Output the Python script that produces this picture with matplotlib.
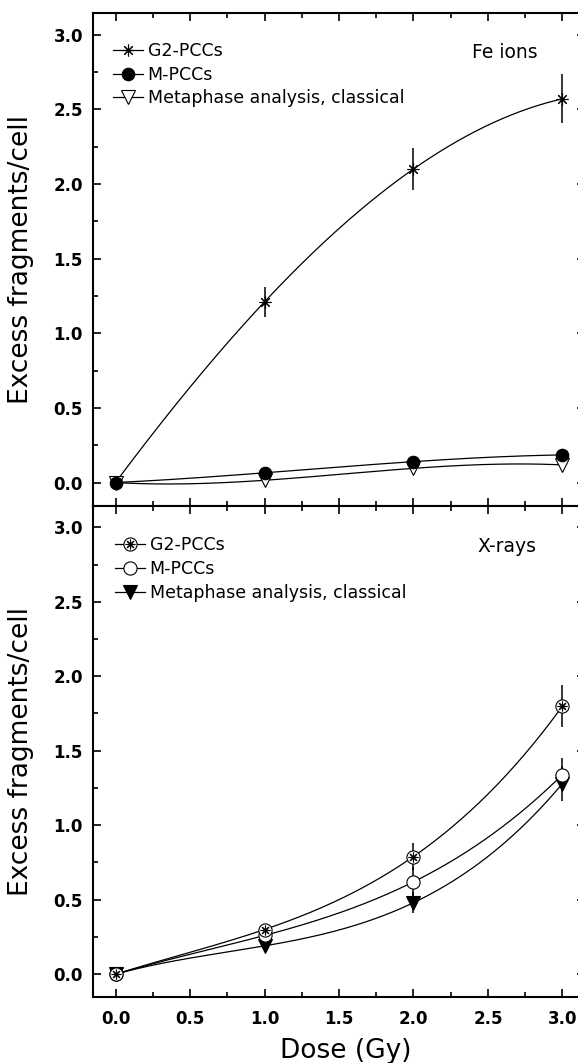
import numpy as np
import matplotlib.pyplot as plt
from matplotlib.ticker import MultipleLocator, FormatStrFormatter
from matplotlib.legend_handler import HandlerTuple

# dose points (Gy)
dose = [0.0, 1.0, 2.0, 3.0]

# Fe ions
fe_g2 = [0.0, 1.21, 2.10, 2.57]
fe_g2_err = [0.0, 0.10, 0.14, 0.165]
fe_m = [0.0, 0.065, 0.14, 0.185]
fe_meta = [0.0, 0.015, 0.095, 0.118]

# X-rays
xr_g2 = [0.0, 0.30, 0.79, 1.80]
xr_g2_err = [0.0, 0.04, 0.09, 0.14]
xr_m = [0.0, 0.26, 0.62, 1.34]
xr_m_err = [0.0, 0.03, 0.10, 0.11]
xr_meta = [0.0, 0.19, 0.48, 1.28]
xr_meta_err = [0.0, 0.02, 0.07, 0.12]

labels = ["G2-PCCs", "M-PCCs", "Metaphase analysis, classical"]

ASTER = (8, 2, 0)
LW = 0.9


def smooth(x, y):
    # smooth cubic through the measured points, like the original fit curves
    coef = np.polyfit(x, y, 3)
    xs = np.linspace(min(x), max(x), 200)
    return xs, np.polyval(coef, xs)


def draw_series(ax, y, err, mstyle):
    xs, ys = smooth(dose, y)
    ax.plot(xs, ys, color="k", lw=LW, zorder=2)
    if err is not None:
        ax.errorbar(dose, y, yerr=err, fmt="none", ecolor="k", elinewidth=1.1, capsize=0, zorder=3)
    for m in mstyle:
        ax.plot(dose, y, ls="none", zorder=4, **m)


def handle(mstyle):
    hs = []
    for i, m in enumerate(mstyle):
        h, = plt.plot([], [], color="k", lw=LW if i == 0 else 0, **m)
        hs.append(h)
    return tuple(hs) if len(hs) > 1 else hs[0]


def style_axes(ax, show_xlabels):
    ax.set_xlim(-0.153, 3.153)
    ax.set_ylim(-0.155, 3.145)
    ax.xaxis.set_major_locator(MultipleLocator(0.5))
    ax.xaxis.set_minor_locator(MultipleLocator(0.25))
    ax.yaxis.set_major_locator(MultipleLocator(0.5))
    ax.yaxis.set_minor_locator(MultipleLocator(0.25))
    ax.xaxis.set_major_formatter(FormatStrFormatter("%.1f"))
    ax.yaxis.set_major_formatter(FormatStrFormatter("%.1f"))
    ax.tick_params(which="both", direction="in", top=True, right=True, width=1.2)
    ax.tick_params(which="major", length=5.5)
    ax.tick_params(which="minor", length=3.5, right=False)
    ax.tick_params(axis="y", pad=7)
    ax.tick_params(axis="x", pad=9, labelbottom=show_xlabels)
    for lab in ax.get_xticklabels() + ax.get_yticklabels():
        lab.set_fontweight("bold")
        lab.set_fontsize(12)
    for s in ax.spines.values():
        s.set_linewidth(1.5)
    ax.set_ylabel("Excess fragments/cell", fontsize=19)
    ax.yaxis.label.set_va("baseline")
    ax.yaxis.set_label_coords(-0.131, 0.5)


fig = plt.figure(figsize=(5.78, 10.63), dpi=100)
fig.patch.set_facecolor("white")

ax1 = fig.add_axes([0.1604, 0.5243, 0.8522, 0.4635])
ax2 = fig.add_axes([0.1604, 0.0618, 0.8522, 0.4625])

# -----------------------------
# Fe ions
# -----------------------------
fe_styles = [
    [dict(marker=ASTER, ms=8.5, mec="k", mew=0.8)],
    [dict(marker="o", ms=9, mfc="k", mec="k", mew=0.8)],
    [dict(marker="v", ms=9.5, mfc="white", mec="k", mew=0.8)],
]
draw_series(ax1, fe_meta, None, fe_styles[2])
draw_series(ax1, fe_m, None, fe_styles[1])
draw_series(ax1, fe_g2, fe_g2_err, fe_styles[0])

style_axes(ax1, False)
ax1.legend([handle(s) for s in fe_styles], labels, loc="upper left",
           bbox_to_anchor=(0.041, 0.941), frameon=False, borderpad=0, borderaxespad=0,
           handlelength=1.75, handletextpad=0.25, labelspacing=0.33, numpoints=1,
           prop={"size": 12.5}, handler_map={tuple: HandlerTuple(ndivide=1)})
ax1.text(2.39, 2.88, "Fe ions", fontsize=13.5, ha="left", va="center")

# -----------------------------
# X-rays
# -----------------------------
xr_styles = [
    [dict(marker="o", ms=9.5, mfc="white", mec="k", mew=0.8),
     dict(marker=ASTER, ms=7, mec="k", mew=0.8)],
    [dict(marker="o", ms=9.5, mfc="white", mec="k", mew=0.8)],
    [dict(marker="v", ms=9.5, mfc="k", mec="k", mew=0.8)],
]
draw_series(ax2, xr_meta, xr_meta_err, xr_styles[2])
draw_series(ax2, xr_m, xr_m_err, xr_styles[1])
draw_series(ax2, xr_g2, xr_g2_err, xr_styles[0])

style_axes(ax2, True)
ax2.legend([handle(s) for s in xr_styles], labels, loc="upper left",
           bbox_to_anchor=(0.045, 0.938), frameon=False, borderpad=0, borderaxespad=0,
           handlelength=1.75, handletextpad=0.25, labelspacing=0.33, numpoints=1,
           prop={"size": 12.5}, handler_map={tuple: HandlerTuple(ndivide=1)})
ax2.text(2.43, 2.87, "X-rays", fontsize=13.5, ha="left", va="center")

ax2.set_xlabel("Dose (Gy)", fontsize=19)
ax2.xaxis.label.set_va("baseline")
ax2.xaxis.set_label_coords(0.513, -0.1235)

fig.savefig("out.png", dpi=100, facecolor="white")
